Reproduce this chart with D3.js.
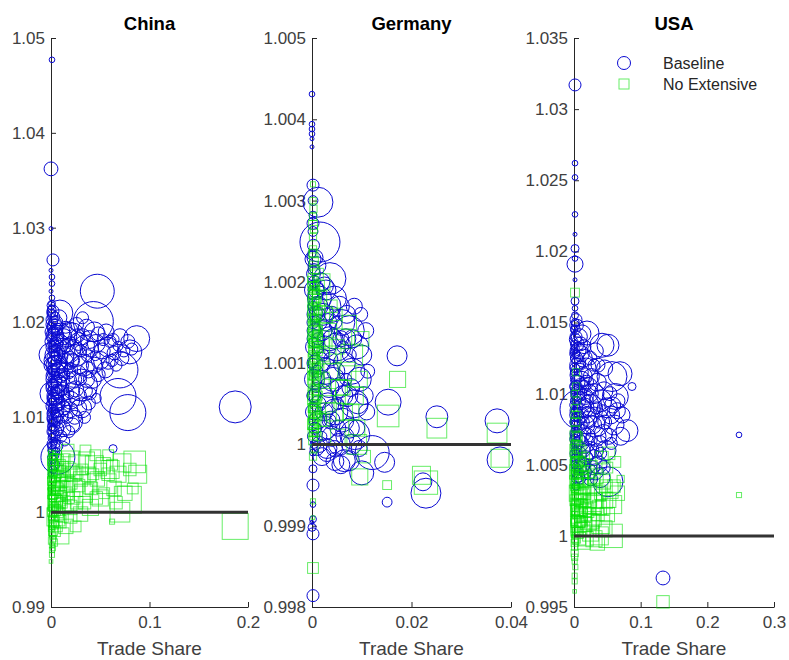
<!DOCTYPE html>
<html>
<head>
<meta charset="utf-8">
<script src="https://cdn.jsdelivr.net/npm/d3@7"></script>
<style>
  body { margin: 0; background: #fff; }
  text { font-family: "Liberation Sans", Arial, sans-serif; }
</style>
</head>
<body>
<svg width="789" height="660"></svg>
<script>
// [trade share, welfare ratio, weight]
const chinaBaseline = [
  [0.001, 1.0477, 2], [0.000, 1.0362, 12], [0.000, 1.0299, 1], [0.002, 1.0266, 9], [0.000, 1.0255, 1],
  [0.001, 1.0248, 2], [0.001, 1.0241, 2], [0.000, 1.0233, 1], [0.001, 1.0226, 2], [0.001, 1.0220, 3],
  [0.001, 1.0214, 4], [0.002, 1.0208, 6], [0.002, 1.0200, 5],
  [0.047, 1.0233, 72], [0.043, 1.0201, 100], [0.009, 1.0210, 42], [0.087, 1.0183, 42], [0.080, 1.0169, 36],
  [0.070, 1.0150, 81], [0.068, 1.0122, 81], [0.078, 1.0105, 81], [0.187, 1.0111, 64], [0.031, 1.0134, 64],
  [0.031, 1.0110, 25], [0.017, 1.0097, 56], [0.000, 1.0166, 36], [0.001, 1.0125, 36], [0.007, 1.0058, 72],
  [0.063, 1.0067, 4],
  [0.004, 1.0195, 16], [0.010, 1.0190, 20], [0.016, 1.0185, 25], [0.022, 1.0188, 30], [0.028, 1.0180, 20],
  [0.034, 1.0176, 25], [0.040, 1.0172, 16], [0.046, 1.0178, 20], [0.052, 1.0170, 16], [0.058, 1.0174, 25],
  [0.064, 1.0168, 12], [0.060, 1.0180, 9], [0.050, 1.0160, 20], [0.044, 1.0190, 25], [0.036, 1.0195, 16],
  [0.025, 1.0165, 30], [0.018, 1.0170, 36], [0.012, 1.0175, 16], [0.006, 1.0180, 12], [0.003, 1.0170, 9],
  [0.002, 1.0160, 20], [0.005, 1.0155, 25], [0.009, 1.0150, 16], [0.014, 1.0158, 20], [0.020, 1.0150, 12],
  [0.026, 1.0145, 25], [0.033, 1.0155, 30], [0.038, 1.0150, 16], [0.042, 1.0140, 20], [0.048, 1.0145, 12],
  [0.055, 1.0150, 16], [0.003, 1.0140, 16], [0.007, 1.0135, 20], [0.011, 1.0130, 12], [0.016, 1.0138, 25],
  [0.021, 1.0128, 16], [0.027, 1.0122, 20], [0.035, 1.0128, 12], [0.002, 1.0120, 9], [0.006, 1.0115, 16],
  [0.010, 1.0110, 20], [0.014, 1.0118, 9], [0.019, 1.0108, 16], [0.024, 1.0100, 12], [0.003, 1.0100, 12],
  [0.008, 1.0095, 9], [0.012, 1.0088, 16], [0.004, 1.0085, 12], [0.002, 1.0078, 6], [0.006, 1.0070, 9],
  [0.001, 1.0065, 4], [0.003, 1.0060, 6], [0.001, 1.0052, 3], [0.002, 1.0045, 4], [0.000, 1.0040, 2],
  [0.003, 1.0188, 9], [0.005, 1.0200, 12], [0.008, 1.0205, 16], [0.001, 1.0185, 6], [0.004, 1.0175, 9],
  [0.007, 1.0165, 12], [0.001, 1.0150, 6], [0.004, 1.0145, 4], [0.002, 1.0130, 6], [0.005, 1.0125, 9],
  [0.008, 1.0120, 6], [0.001, 1.0110, 4], [0.004, 1.0105, 6], [0.007, 1.0102, 9], [0.013, 1.0145, 9],
  [0.017, 1.0125, 9], [0.022, 1.0160, 12], [0.030, 1.0170, 9], [0.037, 1.0165, 9], [0.045, 1.0165, 6],
  [0.053, 1.0182, 9], [0.062, 1.0160, 9], [0.068, 1.0175, 6], [0.074, 1.0170, 9], [0.030, 1.0140, 9],
  [0.040, 1.0125, 9], [0.046, 1.0120, 6], [0.020, 1.0180, 6], [0.015, 1.0195, 9], [0.026, 1.0198, 12],
  [0.032, 1.0205, 9], [0.001, 1.0192, 3], [0.002, 1.0172, 4], [0.001, 1.0140, 3], [0.002, 1.0118, 4],
  [0.001, 1.0095, 3], [0.002, 1.0088, 4], [0.001, 1.0080, 3], [0.003, 1.0075, 4],
  [0.000, 1.0218, 4], [0.002, 1.0212, 9], [0.004, 1.0206, 6], [0.001, 1.0203, 9], [0.003, 1.0198, 16],
  [0.006, 1.0193, 9], [0.001, 1.0190, 12], [0.004, 1.0186, 20], [0.007, 1.0184, 9], [0.002, 1.0180, 16],
  [0.005, 1.0177, 12], [0.009, 1.0178, 20], [0.001, 1.0174, 9], [0.003, 1.0166, 20], [0.006, 1.0168, 16],
  [0.010, 1.0164, 12], [0.002, 1.0163, 9], [0.004, 1.0158, 12], [0.008, 1.0156, 20], [0.001, 1.0155, 16],
  [0.003, 1.0150, 9], [0.006, 1.0148, 16], [0.010, 1.0144, 12], [0.002, 1.0144, 12], [0.005, 1.0138, 9],
  [0.008, 1.0136, 16], [0.001, 1.0134, 9], [0.003, 1.0131, 16], [0.007, 1.0128, 12], [0.010, 1.0125, 20],
  [0.002, 1.0123, 9], [0.004, 1.0119, 12], [0.008, 1.0113, 9], [0.001, 1.0115, 6], [0.003, 1.0112, 16],
  [0.006, 1.0107, 12], [0.002, 1.0104, 9], [0.005, 1.0098, 12], [0.009, 1.0102, 16], [0.001, 1.0098, 6],
  [0.003, 1.0092, 9], [0.006, 1.0088, 12], [0.002, 1.0085, 9], [0.004, 1.0080, 6], [0.001, 1.0072, 6],
  [0.003, 1.0068, 9], [0.005, 1.0064, 4], [0.002, 1.0056, 4], [0.004, 1.0050, 6], [0.001, 1.0048, 3],
  [0.013, 1.0185, 16], [0.016, 1.0176, 12], [0.019, 1.0192, 16], [0.023, 1.0174, 16], [0.027, 1.0186, 12],
  [0.015, 1.0165, 16], [0.019, 1.0160, 20], [0.023, 1.0140, 16], [0.012, 1.0140, 12], [0.018, 1.0148, 12],
  [0.013, 1.0110, 12], [0.016, 1.0100, 9], [0.020, 1.0118, 20], [0.025, 1.0130, 16], [0.029, 1.0155, 20],
  [0.032, 1.0185, 16], [0.039, 1.0182, 20], [0.048, 1.0188, 12], [0.056, 1.0190, 16], [0.063, 1.0182, 9],
  [0.070, 1.0185, 16], [0.078, 1.0180, 12], [0.082, 1.0172, 9], [0.072, 1.0162, 12], [0.066, 1.0155, 9],
  [0.058, 1.0158, 12], [0.044, 1.0155, 16], [0.036, 1.0140, 16], [0.028, 1.0110, 16], [0.038, 1.0115, 12],
  [0.034, 1.0100, 9], [0.022, 1.0092, 12], [0.018, 1.0085, 9], [0.010, 1.0080, 9], [0.014, 1.0075, 6],
  [0.0005, 1.0210, 4], [0.0005, 1.0196, 4], [0.0005, 1.0178, 4], [0.0005, 1.0160, 4], [0.0005, 1.0145, 4],
  [0.0005, 1.0128, 4], [0.0005, 1.0120, 4], [0.0005, 1.0105, 4], [0.0005, 1.0090, 4], [0.0005, 1.0070, 4],
  [0.0005, 1.0058, 4], [0.002, 1.0190, 6], [0.002, 1.0150, 6], [0.002, 1.0135, 6], [0.002, 1.0108, 6],
  [0.002, 1.0095, 6], [0.002, 1.0065, 6], [0.004, 1.0165, 6], [0.004, 1.0128, 6], [0.004, 1.0095, 6],
  [0.004, 1.0072, 6]
];

const chinaNoExtensive = [
  [0.001, 1.0060, 4], [0.002, 1.0050, 9], [0.001, 1.0040, 6], [0.003, 1.0030, 12], [0.002, 1.0020, 9],
  [0.004, 1.0010, 16], [0.001, 1.0000, 6], [0.003, 0.9990, 9], [0.002, 0.9980, 6], [0.001, 0.9970, 4],
  [0.002, 0.9962, 2], [0.001, 0.9955, 2], [0.000, 0.9948, 1], [0.005, 1.0045, 12], [0.007, 1.0035, 16],
  [0.006, 1.0020, 20], [0.008, 1.0005, 12], [0.005, 0.9995, 25], [0.004, 1.0055, 9], [0.009, 1.0050, 9],
  [0.010, 1.0040, 12], [0.012, 1.0025, 16], [0.011, 1.0010, 9], [0.013, 1.0055, 12], [0.015, 1.0045, 20],
  [0.017, 1.0030, 16], [0.018, 1.0015, 9], [0.020, 1.0055, 25], [0.022, 1.0040, 16], [0.024, 1.0025, 20],
  [0.026, 1.0010, 12], [0.028, 1.0050, 30], [0.030, 1.0035, 16], [0.033, 1.0020, 25], [0.036, 1.0055, 20],
  [0.038, 1.0040, 16], [0.041, 1.0025, 12], [0.044, 1.0050, 25], [0.047, 1.0035, 16], [0.050, 1.0015, 20],
  [0.053, 1.0050, 16], [0.056, 1.0030, 30], [0.060, 1.0045, 25], [0.064, 1.0025, 16], [0.068, 1.0040, 20],
  [0.072, 1.0052, 25], [0.075, 1.0020, 16], [0.085, 1.0053, 36], [0.078, 1.0013, 56], [0.088, 1.0040, 25],
  [0.070, 1.0000, 30], [0.040, 1.0005, 20], [0.030, 0.9998, 16], [0.020, 0.9995, 12], [0.015, 0.9985, 16],
  [0.010, 0.9975, 20], [0.062, 0.9990, 2], [0.187, 0.9985, 52], [0.025, 0.9985, 9], [0.035, 1.0065, 9],
  [0.017, 1.0065, 12], [0.045, 1.0060, 9], [0.058, 1.0060, 9], [0.002, 1.0035, 4], [0.001, 1.0025, 3],
  [0.002, 1.0015, 4], [0.003, 1.0005, 6], [0.001, 0.9985, 3], [0.002, 0.9975, 3], [0.006, 1.0060, 6],
  [0.008, 1.0028, 9], [0.006, 1.0012, 9], [0.009, 0.9990, 12], [0.004, 0.9980, 9], [0.003, 0.9968, 4],
  [0.000, 1.0063, 2], [0.002, 1.0058, 4], [0.001, 1.0054, 6], [0.003, 1.0048, 6], [0.001, 1.0045, 4],
  [0.002, 1.0042, 6], [0.004, 1.0038, 9], [0.001, 1.0033, 6], [0.003, 1.0027, 9], [0.005, 1.0025, 12],
  [0.001, 1.0022, 4], [0.002, 1.0018, 6], [0.004, 1.0014, 9], [0.001, 1.0010, 4], [0.002, 1.0006, 6],
  [0.004, 1.0002, 9], [0.002, 0.9998, 4], [0.001, 0.9993, 4], [0.003, 0.9987, 6], [0.001, 0.9978, 3],
  [0.002, 0.9972, 3], [0.001, 0.9965, 2], [0.001, 0.9960, 2], [0.007, 1.0055, 9], [0.009, 1.0043, 12],
  [0.011, 1.0033, 12], [0.008, 1.0015, 16], [0.010, 1.0020, 9], [0.012, 1.0048, 9], [0.014, 1.0038, 9],
  [0.016, 1.0020, 12], [0.014, 1.0005, 12], [0.019, 1.0045, 12], [0.021, 1.0030, 9], [0.023, 1.0015, 12],
  [0.019, 1.0005, 16], [0.026, 1.0042, 12], [0.028, 1.0028, 12], [0.032, 1.0045, 9], [0.034, 1.0010, 12],
  [0.038, 1.0025, 9], [0.043, 1.0040, 9], [0.046, 1.0015, 12], [0.050, 1.0045, 12], [0.054, 1.0020, 9],
  [0.058, 1.0040, 12], [0.062, 1.0050, 9], [0.066, 1.0010, 12], [0.080, 1.0045, 12], [0.083, 1.0025, 9],
  [0.012, 0.9995, 9], [0.006, 0.9985, 9], [0.008, 0.9995, 6],
  [0.0005, 1.0052, 3], [0.0005, 1.0036, 3], [0.0005, 1.0028, 3], [0.0005, 1.0017, 3], [0.0005, 1.0004, 3],
  [0.0005, 0.9995, 3], [0.0005, 0.9983, 3], [0.003, 1.0058, 4], [0.004, 1.0022, 6], [0.005, 1.0006, 6],
  [0.003, 0.9995, 6], [0.002, 0.9988, 4], [0.006, 1.0040, 6], [0.007, 1.0025, 9], [0.007, 1.0000, 9],
  [0.009, 1.0010, 9]
];

const germanyBaseline = [
  [0.0000, 1.00431, 2], [0.0000, 1.00394, 2], [0.0000, 1.00388, 2], [0.0000, 1.00382, 2], [0.0000, 1.00376, 1],
  [0.0000, 1.00366, 1], [0.0002, 1.00319, 9], [0.0002, 1.00300, 6], [0.0012, 1.00298, 56], [0.0002, 1.00282, 4],
  [0.0002, 1.00272, 9], [0.0002, 1.00262, 6], [0.0016, 1.00249, 100], [0.0000, 1.00235, 4], [0.0002, 1.00228, 16],
  [0.0036, 1.00204, 64], [0.0004, 1.00215, 9],
  [0.0171, 1.00109, 25], [0.0153, 1.00052, 42], [0.0251, 1.00034, 30], [0.0372, 1.00029, 36], [0.0378, 0.99981, 42],
  [0.0223, 0.99954, 20], [0.0229, 0.99940, 56], [0.0151, 0.99929, 6], [0.0100, 0.99965, 36], [0.0121, 0.99990, 72],
  [0.0146, 0.99978, 25], [0.0086, 1.00012, 56], [0.0046, 0.99979, 20], [0.0030, 0.99995, 25],
  [0.0002, 0.99926, 2], [0.0002, 0.99908, 3], [0.0002, 0.99890, 9], [0.0000, 0.99898, 4], [0.0000, 0.99904, 1],
  [0.0002, 0.99814, 9], [0.0002, 0.99990, 3], [0.0002, 0.99970, 4], [0.0002, 0.99950, 9],
  [0.0005, 1.0019, 25], [0.0015, 1.0018, 36], [0.0030, 1.0017, 49], [0.0045, 1.0018, 36], [0.0060, 1.0015, 42],
  [0.0075, 1.0014, 56], [0.0090, 1.0012, 36], [0.0010, 1.0016, 16], [0.0020, 1.0014, 25], [0.0035, 1.0013, 36],
  [0.0050, 1.0012, 49], [0.0065, 1.0010, 30], [0.0080, 1.0009, 42], [0.0095, 1.0008, 36], [0.0005, 1.0012, 20],
  [0.0015, 1.0010, 30], [0.0028, 1.0009, 42], [0.0042, 1.0008, 36], [0.0056, 1.0007, 25], [0.0070, 1.0006, 30],
  [0.0085, 1.0005, 49], [0.0005, 1.0008, 25], [0.0018, 1.0006, 36], [0.0032, 1.0005, 30], [0.0046, 1.0004, 42],
  [0.0060, 1.0003, 36], [0.0075, 1.0002, 25], [0.0003, 1.0004, 16], [0.0012, 1.0003, 20], [0.0025, 1.0002, 36],
  [0.0040, 1.0001, 25], [0.0055, 1.0000, 30], [0.0003, 1.0001, 9], [0.0010, 0.99995, 12], [0.0020, 0.99985, 20],
  [0.0065, 0.9998, 30], [0.0002, 1.0015, 9], [0.0002, 1.0010, 6], [0.0002, 1.0006, 9], [0.0002, 1.0017, 6],
  [0.0008, 1.0019, 16], [0.0025, 1.00195, 20], [0.0040, 1.0016, 16], [0.0055, 1.0017, 25], [0.0070, 1.0016, 20],
  [0.0100, 1.0011, 25], [0.0105, 1.0006, 20], [0.0090, 1.0002, 16], [0.0038, 1.00105, 12], [0.0022, 1.0011, 9],
  [0.0012, 1.0013, 9], [0.0048, 1.0015, 9], [0.0062, 1.0012, 9], [0.0075, 1.0011, 12], [0.0068, 1.0008, 9],
  [0.0052, 1.0005, 9], [0.0036, 1.0003, 9], [0.0020, 1.0001, 6], [0.0008, 1.0007, 6], [0.0010, 1.0002, 6],
  [0.0004, 1.0000, 4],
  [0.0003, 1.00245, 9], [0.0006, 1.0023, 16], [0.0003, 1.0021, 12], [0.0010, 1.0022, 20], [0.0005, 1.0020, 9],
  [0.0002, 1.00185, 6], [0.0012, 1.0017, 25], [0.0006, 1.0016, 16], [0.0022, 1.0016, 30], [0.0018, 1.0020, 20],
  [0.0028, 1.0019, 25], [0.0004, 1.0014, 12], [0.0008, 1.0013, 20], [0.0014, 1.0015, 16], [0.0026, 1.0012, 30],
  [0.0032, 1.0015, 20], [0.0042, 1.0013, 25], [0.0058, 1.0013, 16], [0.0068, 1.0013, 25], [0.0082, 1.0013, 20],
  [0.0006, 1.0010, 16], [0.0010, 1.0009, 9], [0.0020, 1.0008, 20], [0.0034, 1.0007, 25], [0.0048, 1.0009, 20],
  [0.0062, 1.0006, 25], [0.0078, 1.0007, 20], [0.0092, 1.0005, 25], [0.0004, 1.0006, 12], [0.0012, 1.0005, 16],
  [0.0024, 1.0004, 20], [0.0038, 1.0003, 20], [0.0052, 1.0002, 16], [0.0066, 1.0001, 20], [0.0080, 1.0000, 25],
  [0.0006, 1.0002, 9], [0.0015, 1.0000, 16], [0.0030, 0.99990, 20], [0.0045, 0.99995, 16], [0.0058, 0.99975, 20],
  [0.0075, 0.9998, 25], [0.0095, 0.99995, 16], [0.0110, 1.0004, 16], [0.0112, 1.0009, 12], [0.0108, 1.0014, 16],
  [0.0098, 1.0016, 12], [0.0085, 1.0017, 16]
];

const germanyNoExtensive = [
  [0.0002, 1.0032, 2], [0.0002, 1.0028, 4], [0.0002, 1.0027, 6], [0.0002, 1.0024, 4], [0.0003, 1.0022, 6],
  [0.0002, 1.0020, 9], [0.0004, 1.0019, 6], [0.0003, 1.0018, 9], [0.0005, 1.0017, 6], [0.0003, 1.0016, 9],
  [0.0006, 1.0015, 6], [0.0004, 1.0014, 9], [0.0002, 1.0013, 6], [0.0005, 1.0012, 9], [0.0003, 1.0011, 6],
  [0.0006, 1.0010, 9], [0.0004, 1.0009, 6], [0.0002, 1.0008, 9], [0.0005, 1.0007, 6], [0.0003, 1.0006, 9],
  [0.0006, 1.0005, 6], [0.0004, 1.0004, 9], [0.0002, 1.0003, 6], [0.0004, 1.0002, 6], [0.0003, 1.0001, 4],
  [0.0008, 1.0016, 9], [0.0009, 1.0012, 9], [0.0010, 1.0008, 9], [0.0008, 1.0004, 9], [0.0012, 1.0014, 6],
  [0.0013, 1.0010, 6], [0.0012, 1.0006, 6], [0.0015, 1.0018, 16], [0.0018, 1.0013, 20], [0.0020, 1.0008, 16],
  [0.0017, 1.0003, 12], [0.0025, 1.0016, 20], [0.0030, 1.0011, 25], [0.0028, 1.0005, 20], [0.0035, 1.0014, 16],
  [0.0040, 1.0009, 20], [0.0045, 1.0004, 25], [0.0050, 1.0012, 16], [0.0055, 1.0007, 20], [0.0060, 1.0013, 30],
  [0.0065, 1.0004, 20], [0.0070, 1.0009, 25], [0.0080, 1.0011, 36], [0.0085, 1.0006, 25], [0.0090, 1.0002, 20],
  [0.0020, 1.0020, 20], [0.0012, 1.0021, 9], [0.0172, 1.0008, 20], [0.0153, 1.00035, 36], [0.0251, 1.0002, 30],
  [0.0372, 1.00014, 30], [0.0378, 0.99983, 25], [0.0229, 0.99953, 42], [0.0220, 0.99962, 25], [0.0151, 0.9995, 6],
  [0.0096, 0.9996, 20], [0.0090, 1.0000, 30], [0.0002, 0.99848, 9], [0.0002, 0.9993, 2], [0.0002, 0.9991, 1],
  [0.0105, 0.99985, 12], [0.0002, 1.00255, 4], [0.0003, 1.00235, 6], [0.0004, 1.00125, 6], [0.0003, 1.00085, 6],
  [0.0002, 1.00045, 6], [0.0005, 1.00155, 4], [0.0006, 1.00065, 4], [0.0002, 1.00175, 4], [0.0003, 1.00195, 4],
  [0.0001, 1.00195, 6], [0.0004, 1.00185, 9], [0.0002, 1.00165, 9], [0.0005, 1.00145, 9], [0.0002, 1.00135, 9],
  [0.0004, 1.00115, 9], [0.0006, 1.00105, 6], [0.0002, 1.00095, 9], [0.0004, 1.00075, 9], [0.0002, 1.00055, 9],
  [0.0005, 1.00035, 9], [0.0002, 1.00025, 9], [0.0004, 1.00015, 6], [0.0002, 1.00005, 6], [0.0007, 1.0019, 6],
  [0.0007, 1.0014, 9], [0.0007, 1.0009, 9], [0.0007, 1.0003, 9], [0.0010, 1.0018, 6], [0.0010, 1.0013, 9],
  [0.0011, 1.0001, 6], [0.0014, 1.0008, 9], [0.0015, 1.0012, 9], [0.0016, 1.0016, 9], [0.0022, 1.0011, 12],
  [0.0023, 1.0003, 12], [0.0033, 1.0006, 16], [0.0038, 1.0017, 12], [0.0048, 1.0016, 12], [0.0052, 1.0001, 16],
  [0.0062, 1.0007, 16], [0.0075, 1.0015, 16], [0.0078, 1.0004, 20], [0.0095, 1.0008, 20], [0.0100, 1.0013, 16],
  [0.0003, 1.0029, 4], [0.0002, 1.0030, 3], [0.0004, 1.00265, 4],
  [0.0001, 1.00235, 4], [0.0004, 1.00225, 6], [0.0006, 1.00215, 6], [0.0001, 1.00205, 6], [0.0006, 1.00195, 6],
  [0.0003, 1.00175, 9], [0.0008, 1.00175, 6], [0.0001, 1.00155, 6], [0.0007, 1.00155, 9], [0.0003, 1.00145, 9],
  [0.0009, 1.00135, 6], [0.0001, 1.00125, 6], [0.0006, 1.00125, 9], [0.0003, 1.00105, 9], [0.0009, 1.00095, 6],
  [0.0001, 1.00085, 6], [0.0006, 1.00085, 9], [0.0003, 1.00065, 9], [0.0009, 1.00055, 6], [0.0001, 1.00045, 6],
  [0.0006, 1.00045, 9], [0.0003, 1.00025, 9], [0.0008, 1.00015, 6], [0.0001, 1.00015, 6], [0.0005, 0.99995, 4],
  [0.0002, 0.99985, 4], [0.0012, 1.00165, 6], [0.0012, 1.00115, 6], [0.0012, 1.00035, 6], [0.0014, 1.00195, 9]
];

const usaBaseline = [
  [0.0015, 1.0317, 9], [0.0015, 1.0262, 2], [0.0015, 1.0252, 2], [0.0015, 1.0226, 2], [0.0015, 1.0212, 1],
  [0.0015, 1.0202, 4], [0.0015, 1.0191, 16], [0.0015, 1.0195, 2], [0.0015, 1.0180, 1], [0.0015, 1.0165, 4],
  [0.0015, 1.0160, 2], [0.0015, 1.0155, 3], [0.002, 1.0150, 4],
  [0.2475, 1.0071, 2], [0.1335, 0.99704, 12], [0.0195, 1.01426, 36], [0.051, 1.0134, 30], [0.069, 1.0114, 36],
  [0.087, 1.0105, 4], [0.057, 1.0112, 56], [0.0795, 1.0074, 30], [0.031, 1.0080, 56], [0.051, 1.0038, 56],
  [0.039, 1.0041, 25], [0.009, 1.0089, 100], [0.042, 1.0134, 36], [0.062, 1.0098, 42],
  [0.003, 1.0140, 9], [0.006, 1.0130, 16], [0.010, 1.0135, 12], [0.014, 1.0125, 20], [0.004, 1.0120, 12],
  [0.008, 1.0115, 20], [0.012, 1.0110, 16], [0.018, 1.0118, 25], [0.022, 1.0105, 20], [0.026, 1.0112, 16],
  [0.030, 1.0100, 25], [0.035, 1.0108, 20], [0.040, 1.0095, 30], [0.045, 1.0102, 20], [0.050, 1.0090, 25],
  [0.055, 1.0085, 20], [0.060, 1.0078, 25], [0.065, 1.0088, 16], [0.070, 1.0070, 20], [0.003, 1.0105, 9],
  [0.007, 1.0100, 16], [0.011, 1.0095, 20], [0.015, 1.0090, 25], [0.020, 1.0085, 16], [0.025, 1.0092, 30],
  [0.028, 1.0078, 20], [0.033, 1.0070, 25], [0.038, 1.0065, 16], [0.044, 1.0072, 20], [0.048, 1.0060, 25],
  [0.004, 1.0085, 12], [0.008, 1.0078, 16], [0.012, 1.0072, 20], [0.016, 1.0065, 25], [0.020, 1.0070, 16],
  [0.024, 1.0060, 20], [0.030, 1.0055, 16], [0.036, 1.0050, 20], [0.004, 1.0065, 9], [0.008, 1.0058, 12],
  [0.012, 1.0050, 16], [0.018, 1.0055, 12], [0.022, 1.0045, 16], [0.028, 1.0048, 12], [0.005, 1.0045, 9],
  [0.010, 1.0040, 6], [0.003, 1.0035, 4], [0.002, 1.0145, 6], [0.005, 1.0148, 9], [0.002, 1.0125, 6],
  [0.002, 1.0110, 6], [0.002, 1.0095, 6], [0.002, 1.0080, 6], [0.002, 1.0070, 6], [0.002, 1.0060, 4],
  [0.002, 1.0050, 4], [0.006, 1.0090, 6], [0.010, 1.0120, 6], [0.016, 1.0105, 9], [0.020, 1.0095, 9],
  [0.024, 1.0125, 12], [0.030, 1.0120, 9], [0.034, 1.0090, 9], [0.038, 1.0080, 9], [0.042, 1.0088, 9],
  [0.014, 1.0080, 9], [0.026, 1.0068, 9], [0.017, 1.0045, 9], [0.040, 1.0058, 9], [0.001, 1.0135, 3],
  [0.001, 1.0100, 3], [0.001, 1.0088, 3], [0.001, 1.0075, 3], [0.003, 1.0128, 4], [0.004, 1.0095, 4],
  [0.001, 1.0148, 6], [0.003, 1.0152, 9], [0.002, 1.0138, 9], [0.005, 1.0135, 12], [0.008, 1.0140, 16],
  [0.012, 1.0142, 20], [0.001, 1.0128, 6], [0.004, 1.0125, 9], [0.007, 1.0122, 12], [0.011, 1.0128, 16],
  [0.015, 1.0133, 12], [0.001, 1.0118, 6], [0.003, 1.0113, 9], [0.006, 1.0108, 12], [0.010, 1.0105, 16],
  [0.014, 1.0112, 20], [0.019, 1.0108, 12], [0.001, 1.0105, 6], [0.004, 1.0102, 9], [0.007, 1.0095, 12],
  [0.012, 1.0090, 20], [0.017, 1.0098, 16], [0.023, 1.0100, 20], [0.001, 1.0092, 6], [0.003, 1.0088, 9],
  [0.006, 1.0082, 12], [0.010, 1.0085, 16], [0.018, 1.0078, 20], [0.022, 1.0082, 16], [0.001, 1.0080, 6],
  [0.003, 1.0072, 9], [0.006, 1.0068, 12], [0.010, 1.0065, 16], [0.014, 1.0060, 12], [0.020, 1.0058, 16],
  [0.001, 1.0068, 6], [0.003, 1.0058, 9], [0.006, 1.0052, 12], [0.010, 1.0048, 9], [0.015, 1.0050, 12],
  [0.001, 1.0055, 4], [0.003, 1.0048, 6], [0.004, 1.0040, 6], [0.007, 1.0042, 9], [0.032, 1.0130, 16],
  [0.036, 1.0120, 12], [0.046, 1.0118, 16], [0.054, 1.0100, 12], [0.058, 1.0092, 16], [0.066, 1.0095, 12],
  [0.072, 1.0085, 16], [0.034, 1.0060, 12], [0.046, 1.0080, 12], [0.052, 1.0070, 16], [0.056, 1.0065, 9],
  [0.025, 1.0040, 12], [0.032, 1.0045, 16], [0.044, 1.0048, 12],
  [0.0005, 1.0145, 3], [0.0005, 1.0130, 3], [0.0005, 1.0115, 3], [0.0005, 1.0098, 3], [0.0005, 1.0083, 3],
  [0.0005, 1.0072, 3], [0.0005, 1.0062, 3], [0.0005, 1.0050, 3], [0.002, 1.0132, 4], [0.002, 1.0102, 4],
  [0.002, 1.0088, 4], [0.002, 1.0075, 4], [0.002, 1.0065, 4], [0.004, 1.0110, 6], [0.004, 1.0078, 6],
  [0.004, 1.0055, 6]
];

const usaNoExtensive = [
  [0.0015, 1.0171, 6], [0.2475, 1.00287, 2], [0.1335, 0.99536, 12], [0.002, 1.0080, 6], [0.002, 1.0070, 9],
  [0.003, 1.0060, 12], [0.002, 1.0050, 9], [0.004, 1.0045, 16], [0.003, 1.0038, 12], [0.005, 1.0030, 20],
  [0.002, 1.0025, 9], [0.004, 1.0018, 12], [0.003, 1.0010, 9], [0.002, 1.0003, 6], [0.001, 0.9995, 4],
  [0.001, 0.9988, 4], [0.001, 0.9982, 2], [0.001, 0.9961, 1], [0.007, 1.0050, 16], [0.008, 1.0040, 20],
  [0.009, 1.0030, 16], [0.008, 1.0020, 20], [0.007, 1.0012, 16], [0.010, 1.0005, 12], [0.012, 1.0045, 12],
  [0.013, 1.0035, 20], [0.014, 1.0025, 16], [0.013, 1.0015, 20], [0.016, 1.0008, 16], [0.018, 1.0040, 20],
  [0.020, 1.0030, 25], [0.019, 1.0018, 16], [0.022, 1.0010, 20], [0.024, 1.0048, 16], [0.026, 1.0035, 20],
  [0.028, 1.0022, 25], [0.030, 1.0012, 16], [0.033, 1.0042, 16], [0.035, 1.0030, 20], [0.038, 1.0020, 16],
  [0.040, 1.0008, 25], [0.044, 1.0038, 16], [0.046, 1.0025, 20], [0.050, 1.0015, 16], [0.054, 1.0032, 20],
  [0.058, 1.0022, 25], [0.062, 1.0052, 9], [0.055, 1.0000, 42], [0.052, 1.0058, 12], [0.042, 1.0055, 12],
  [0.006, 1.0070, 6], [0.010, 1.0060, 9], [0.015, 1.0055, 9], [0.005, 1.0085, 4], [0.004, 1.0095, 4],
  [0.003, 1.0105, 4], [0.003, 1.0115, 4], [0.065, 1.0030, 16], [0.070, 1.0040, 4], [0.025, 1.0002, 20],
  [0.035, 0.9995, 16], [0.015, 0.9995, 12], [0.001, 1.0065, 4], [0.001, 1.0042, 4], [0.002, 1.0033, 4],
  [0.001, 1.0015, 3], [0.003, 0.9998, 6], [0.006, 1.0002, 9], [0.009, 1.0010, 9], [0.011, 1.0022, 9],
  [0.001, 1.0058, 4], [0.002, 1.0055, 6], [0.004, 1.0052, 9], [0.001, 1.0048, 4], [0.003, 1.0044, 6],
  [0.005, 1.0040, 9], [0.001, 1.0038, 4], [0.002, 1.0035, 6], [0.004, 1.0030, 9], [0.001, 1.0028, 4],
  [0.003, 1.0022, 6], [0.005, 1.0018, 9], [0.001, 1.0020, 4], [0.002, 1.0012, 6], [0.004, 1.0008, 9],
  [0.001, 1.0005, 4], [0.002, 0.9998, 4], [0.001, 0.9992, 3], [0.001, 0.9985, 3], [0.002, 0.9978, 2],
  [0.007, 1.0062, 9], [0.009, 1.0048, 12], [0.011, 1.0038, 16], [0.010, 1.0025, 12], [0.011, 1.0015, 12],
  [0.013, 1.0005, 16], [0.016, 1.0050, 12], [0.016, 1.0030, 12], [0.017, 1.0018, 12], [0.021, 1.0045, 12],
  [0.023, 1.0025, 16], [0.024, 1.0015, 12], [0.027, 1.0010, 16], [0.030, 1.0040, 12], [0.032, 1.0025, 16],
  [0.036, 1.0015, 12], [0.040, 1.0030, 12], [0.043, 1.0020, 16], [0.048, 1.0035, 12], [0.052, 1.0025, 16],
  [0.045, 1.0005, 20], [0.038, 1.0000, 25], [0.050, 1.0048, 9], [0.060, 1.0035, 12], [0.006, 1.0010, 12],
  [0.008, 0.9998, 12], [0.018, 0.9998, 16], [0.030, 0.9998, 20], [0.001, 0.9972, 2], [0.001, 0.9968, 2],
  [0.0005, 1.0062, 4], [0.003, 1.0064, 6], [0.005, 1.0058, 6], [0.0005, 1.0052, 4], [0.006, 1.0046, 6],
  [0.0005, 1.0044, 4], [0.007, 1.0036, 9], [0.0005, 1.0034, 4], [0.003, 1.0032, 6], [0.006, 1.0026, 9],
  [0.0005, 1.0024, 4], [0.002, 1.0018, 6], [0.006, 1.0016, 9], [0.0005, 1.0010, 4], [0.004, 1.0003, 6],
  [0.0005, 1.0001, 3], [0.009, 1.0020, 9], [0.009, 1.0052, 9], [0.011, 1.0030, 9], [0.012, 1.0010, 9],
  [0.002, 1.0075, 4], [0.001, 1.0085, 4], [0.004, 1.0070, 6], [0.0005, 1.0090, 3], [0.0005, 1.0100, 3]
];

const chinaXTicks = [0, 0.1, 0.2];
const chinaYTicks = [0.99, 1, 1.01, 1.02, 1.03, 1.04, 1.05];
const germanyXTicks = [0, 0.02, 0.04];
const germanyYTicks = [0.998, 0.999, 1, 1.001, 1.002, 1.003, 1.004, 1.005];
const usaXTicks = [0, 0.1, 0.2, 0.3];
const usaYTicks = [0.995, 1, 1.005, 1.01, 1.015, 1.02, 1.025, 1.03, 1.035];

const legendLabels = ["Baseline", "No Extensive"];

const panels = [
  { title: "China", base: chinaBaseline, noExt: chinaNoExtensive, xTicks: chinaXTicks, yTicks: chinaYTicks, left: 51, right: 248 },
  { title: "Germany", base: germanyBaseline, noExt: germanyNoExtensive, xTicks: germanyXTicks, yTicks: germanyYTicks, left: 312, right: 511 },
  { title: "USA", base: usaBaseline, noExt: usaNoExtensive, xTicks: usaXTicks, yTicks: usaYTicks, left: 574, right: 774 },
];

const svg = d3.select("svg");
const plotTop = 38;
const plotBottom = 607;
const blue = "#0a0ad2";
const green = "rgb(0,225,0)";
const axisColor = "#262626";

const rScale = d3.scaleSqrt().domain([0, 100]).range([0, 20]);
const fmt = (v) => String(+v.toFixed(4));

const drawPanel = (p) => {
  const x = d3.scaleLinear().domain(d3.extent(p.xTicks)).range([p.left, p.right]);
  const y = d3.scaleLinear().domain(d3.extent(p.yTicks)).range([plotBottom, plotTop]);

  const g = svg.append("g");

  //axes, ticks point inward like matlab
  const yAxis = d3.axisLeft(y).tickValues(p.yTicks).tickFormat(fmt)
    .tickSizeInner(-5).tickSizeOuter(0).tickPadding(6);
  const xAxis = d3.axisBottom(x).tickValues(p.xTicks).tickFormat(fmt)
    .tickSizeInner(-5).tickSizeOuter(0).tickPadding(9);

  const ya = g.append("g").attr("transform", `translate(${p.left},0)`).call(yAxis);
  const xa = g.append("g").attr("transform", `translate(0,${plotBottom})`).call(xAxis);
  [ya, xa].forEach((a) => {
    a.attr("font-size", 17).attr("font-family", null);
    a.selectAll("path, line").attr("stroke", axisColor);
    a.selectAll("text").attr("fill", "#404040");
  });

  g.append("text")
    .attr("x", (p.left + p.right) / 2)
    .attr("y", 30)
    .attr("text-anchor", "middle")
    .style("font-size", "18.5px")
    .style("font-weight", "bold")
    .text(p.title);

  g.append("text")
    .attr("x", (p.left + p.right) / 2)
    .attr("y", 655)
    .attr("text-anchor", "middle")
    .attr("fill", "#404040")
    .style("font-size", "19px")
    .text("Trade Share");

  g.append("g")
    .selectAll("circle")
    .data(p.base)
    .enter()
    .append("circle")
    .attr("cx", (d) => x(d[0]))
    .attr("cy", (d) => y(d[1]))
    .attr("r", (d) => rScale(d[2]))
    .attr("fill", "none")
    .attr("stroke", blue)
    .attr("stroke-width", 1);

  g.append("g")
    .selectAll("rect")
    .data(p.noExt)
    .enter()
    .append("rect")
    .attr("x", (d) => x(d[0]) - rScale(d[2]) * 0.9)
    .attr("y", (d) => y(d[1]) - rScale(d[2]) * 0.9)
    .attr("width", (d) => rScale(d[2]) * 1.8)
    .attr("height", (d) => rScale(d[2]) * 1.8)
    .attr("fill", "none")
    .attr("stroke", green)
    .attr("stroke-opacity", 0.6)
    .attr("stroke-width", 1);

  // reference line at 1
  g.append("line")
    .attr("x1", x(0))
    .attr("x2", x(d3.max(p.xTicks)))
    .attr("y1", y(1))
    .attr("y2", y(1))
    .attr("stroke", "#333")
    .attr("stroke-width", 3);
};

panels.forEach(drawPanel);

//legend in the USA panel
const legend = svg.append("g").attr("transform", "translate(624,63)");
legend.append("circle").attr("r", 6.5).attr("fill", "none").attr("stroke", blue);
legend.append("rect").attr("x", -5).attr("y", 16).attr("width", 10).attr("height", 10)
  .attr("fill", "none").attr("stroke", green).attr("stroke-opacity", 0.6);
legend.selectAll(".lbl")
  .data(legendLabels)
  .enter()
  .append("text")
  .attr("x", 39)
  .attr("y", (d, i) => 6 + i * 21)
  .style("font-size", "16px")
  .attr("fill", "#262626")
  .text((d) => d);
</script>
</body>
</html>
